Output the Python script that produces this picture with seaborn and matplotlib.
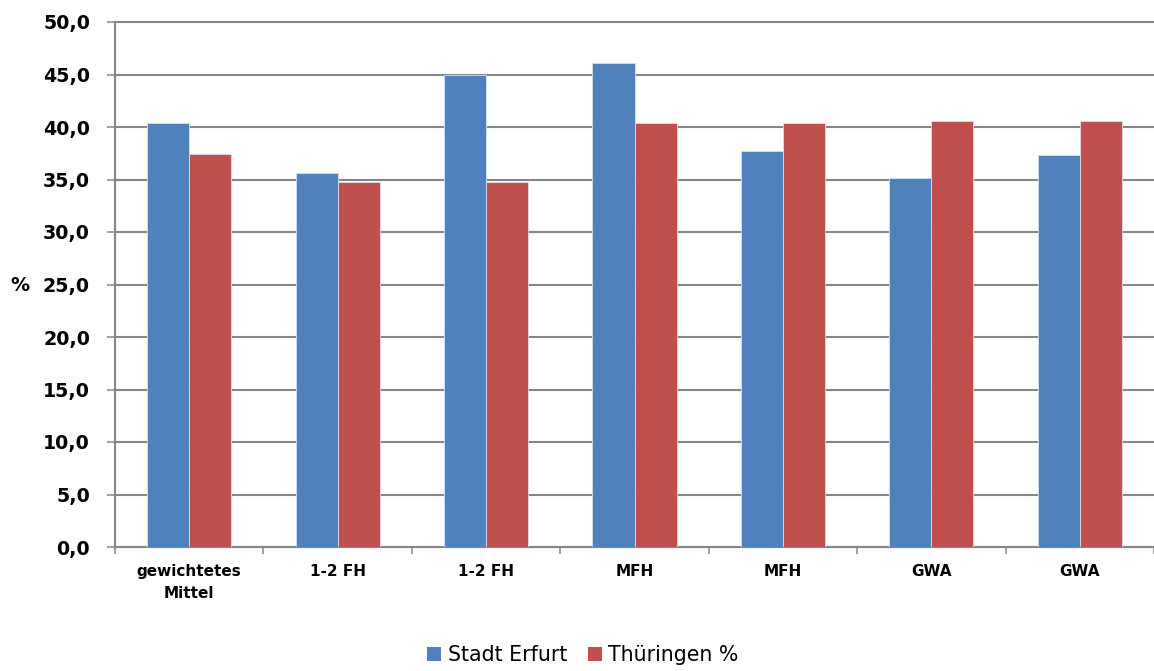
import matplotlib
matplotlib.use("Agg")
import matplotlib.pyplot as plt
from matplotlib.patches import Patch
import seaborn as sns
import pandas as pd
import numpy as np

categories = ["gewichtetes\nMittel", "1-2 FH", "1-2 FH", "MFH", "MFH", "GWA", "GWA"]
series_names = ["Stadt Erfurt", "Thüringen %"]
erfurt = [40.4, 35.6, 45.0, 46.1, 37.7, 35.1, 37.3]
thueringen = [37.4, 34.8, 34.8, 40.4, 40.4, 40.6, 40.6]
y_ticks = [0, 5, 10, 15, 20, 25, 30, 35, 40, 45, 50]

colors = ["#4F81BD", "#C0504D"]
grid_col = "#868686"

sns.set_theme(style="white")
plt.rcParams["font.family"] = ["DejaVu Sans"]

ids = [str(i) for i in range(len(categories))]
df = pd.DataFrame({
    "pos": ids * 2,
    "value": erfurt + thueringen,
    "series": [series_names[0]] * len(ids) + [series_names[1]] * len(ids),
})

fig = plt.figure(figsize=(11.54, 6.71), dpi=100)
ax = fig.add_axes([115 / 1154, 1 - 547 / 671, 1039 / 1154, 525 / 671])

sns.barplot(data=df, x="pos", y="value", hue="series", order=ids,
            hue_order=series_names, palette=colors, width=0.566, gap=0,
            edgecolor="#d8e0ec", linewidth=0.6, saturation=1, ax=ax,
            legend=False, zorder=3)

ax.set_xlim(-0.5, len(ids) - 0.5)
ax.set_ylim(0, 50)
ax.set_yticks(y_ticks)
ax.set_yticklabels([f"{v:.1f}".replace(".", ",") for v in y_ticks],
                   fontsize=13.7, fontweight="bold", color="#000000")
ax.yaxis.grid(True, color=grid_col, linewidth=1.5, zorder=0)
ax.set_axisbelow(True)
for gl in ax.get_ygridlines():
    gl.set_clip_on(False)

# x: ticks between categories, labels at centers
ax.set_xticks(np.arange(-0.5, len(ids)), minor=False)
ax.set_xticklabels([])
ax.set_xticks(np.arange(len(ids)), minor=True)
ax.set_xticklabels(categories, minor=True, fontsize=11, fontweight="bold",
                   linespacing=1.6, color="#000000")
ax.tick_params(axis="x", which="major", direction="out", length=5,
               width=1.1, color=grid_col, bottom=True)
ax.tick_params(axis="x", which="minor", length=0, pad=12)
ax.tick_params(axis="y", direction="out", length=6, width=1.1,
               color=grid_col, left=True, pad=12)

for s in ["top", "right"]:
    ax.spines[s].set_visible(False)
for s in ["left", "bottom"]:
    ax.spines[s].set_color(grid_col)
    ax.spines[s].set_linewidth(1.5)

ax.set_xlabel("")
ax.set_ylabel("%", rotation=0, fontsize=13.7, fontweight="bold",
              ha="center", va="center", color="#000000")
ax.yaxis.set_label_coords(-0.0914, 0.499)

handles = [Patch(facecolor=c, edgecolor="none") for c in colors]
fig.legend(handles, series_names, loc="center", bbox_to_anchor=(0.505, 0.024),
           ncol=2, frameon=False, fontsize=14.8, handlelength=0.7,
           handleheight=0.7, handletextpad=0.3, columnspacing=1.0,
           labelcolor="#000000")

fig.savefig("out.png", dpi=100)
